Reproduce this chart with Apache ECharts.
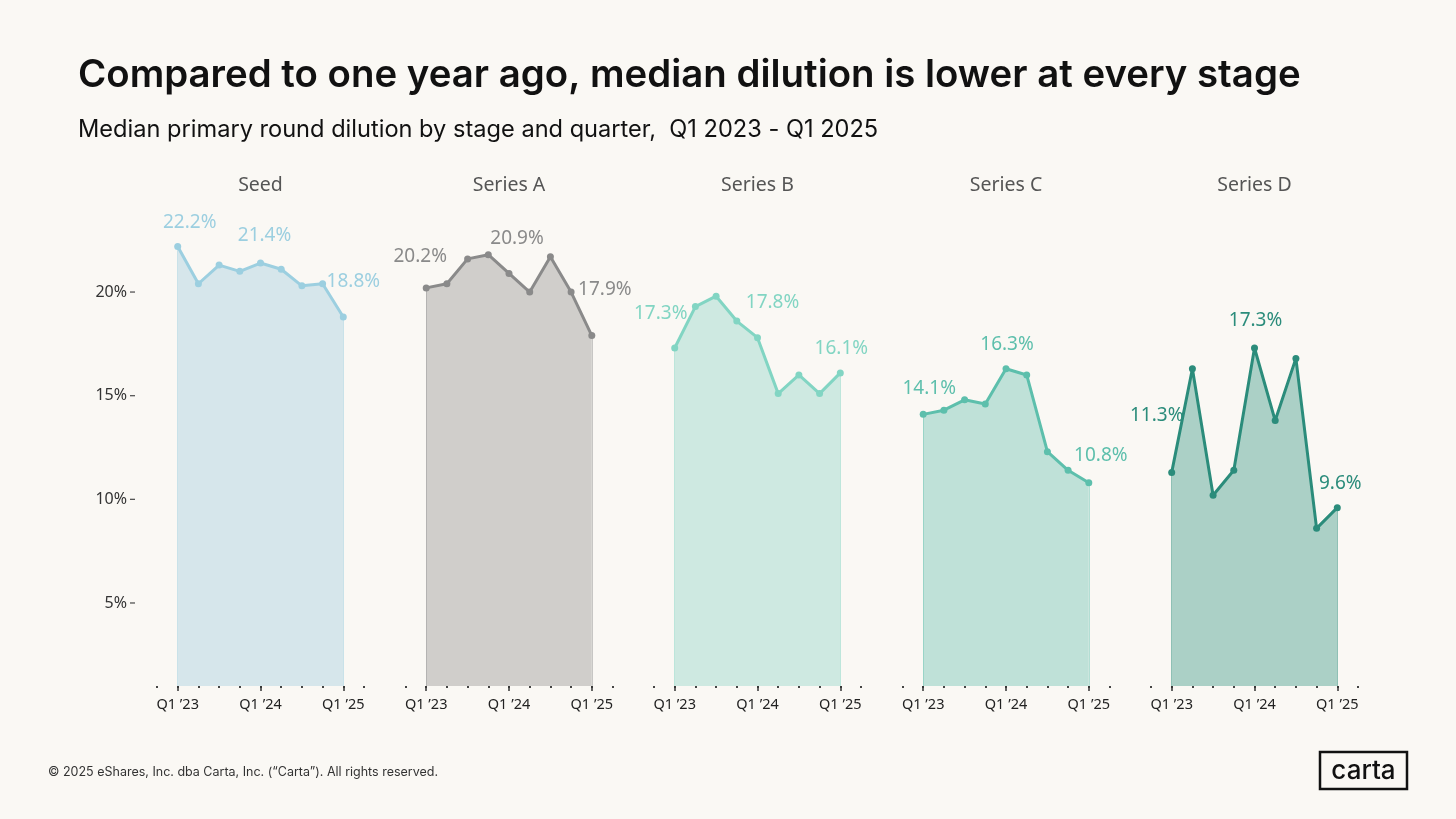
<!DOCTYPE html>
<html><head><meta charset="utf-8">
<script src="https://cdn.jsdelivr.net/npm/echarts@6/dist/echarts.min.js"></script>
<style>html,body{margin:0;background:#faf8f4;} #c{width:1456px;height:819px;}</style>
</head><body><div id="c"></div>
<script>
// ---- data ----
const stages = ['Seed', 'Series A', 'Series B', 'Series C', 'Series D'];
const quarters = ['Q1 ’23','Q2 ’23','Q3 ’23','Q4 ’23','Q1 ’24','Q2 ’24','Q3 ’24','Q4 ’24','Q1 ’25'];
const seed    = [22.2, 20.4, 21.3, 21.0, 21.4, 21.1, 20.3, 20.4, 18.8];
const seriesA = [20.2, 20.4, 21.6, 21.8, 20.9, 20.0, 21.7, 20.0, 17.9];
const seriesB = [17.3, 19.3, 19.8, 18.6, 17.8, 15.1, 16.0, 15.1, 16.1];
const seriesC = [14.1, 14.3, 14.8, 14.6, 16.3, 16.0, 12.3, 11.4, 10.8];
const seriesD = [11.3, 16.3, 10.2, 11.4, 17.3, 13.8, 16.8, 8.6, 9.6];
const yTickValues = [5, 10, 15, 20];
const labelledQuarters = [0, 4, 8];

// ---- styling / layout ----
const allSeries = [seed, seriesA, seriesB, seriesC, seriesD];
const lineColors = ['#9ccfe0', '#8a8a8a', '#82d5c3', '#5dbfac', '#2b8c7b'];
const areaColors = ['#d6e6eb', '#d0cecb', '#cee9e1', '#bfe1d8', '#abd0c6'];
const labelNudges = [
  [[12, -6], [4, -9], [10, -17]],
  [[-6, -13], [8, -17], [13, -28]],
  [[-14, -16], [15, -17], [1, -6]],
  [[6, -8], [1, -6], [12, -9]],
  [[-15, -39], [1, -9], [3, -6]]
];
const Y_MIN = 1, Y_MAX = 25;
const PANEL_LEFT = 157, PANEL_STEP = 248.5, PANEL_W = 207, GRID_TOP = 188.4, GRID_BOTTOM = 685.9;
const FONT = '"Noto Sans", "Open Sans", sans-serif';
const HEAD = 'Inter, "Noto Sans", sans-serif';

const grids = [], xAxes = [], yAxes = [], series = [], graphics = [];
allSeries.forEach((vals, i) => {
  const left = PANEL_LEFT + i * PANEL_STEP;
  grids.push({ left: left, top: GRID_TOP, width: PANEL_W, height: GRID_BOTTOM - GRID_TOP });
  xAxes.push({
    type: 'value', gridIndex: i, min: -1, max: quarters.length, interval: 1, position: 'bottom',
    axisLine: { show: false }, splitLine: { show: false },
    axisTick: { show: true, length: 2, lineStyle: { color: '#444', width: 2 } },
    axisLabel: {
      margin: 11, fontSize: 14.5, color: '#222', fontFamily: FONT,
      formatter: v => labelledQuarters.includes(v) ? quarters[v] : ''
    }
  });
  xAxes.push({
    type: 'category', gridIndex: i, boundaryGap: false, position: 'bottom',
    data: [''].concat(quarters, ['']),
    axisLine: { show: false }, axisLabel: { show: false }, splitLine: { show: false },
    axisTick: { show: true, length: 5, interval: idx => labelledQuarters.includes(idx - 1), lineStyle: { color: '#333', width: 1.5 } }
  });
  yAxes.push({
    type: 'value', gridIndex: i, min: Y_MIN, max: Y_MAX, interval: 1,
    axisLine: { show: false }, axisTick: { show: false }, splitLine: { show: false },
    axisLabel: {
      show: i === 0, margin: 22, fontFamily: FONT,
      formatter: v => yTickValues.includes(v) ? '{a|' + v + '%}{t| }' : '',
      rich: {
        a: { fontSize: 16, color: '#333', fontFamily: FONT, padding: [0, 3, 0, 0] },
        t: { width: 5, height: 1.3, backgroundColor: '#555', fontSize: 1 }
      }
    }
  });
  const last = vals.length - 1;
  series.push({
    type: 'line', xAxisIndex: 2 * i, yAxisIndex: i,
    data: vals.map((v, j) => {
      const k = labelledQuarters.indexOf(j);
      return {
        value: [j, v],
        label: { show: k >= 0, offset: k >= 0 ? labelNudges[i][k] : [0, 0] }
      };
    }),
    symbol: 'circle', symbolSize: 7, showAllSymbol: true,
    lineStyle: { width: 3, color: lineColors[i] },
    itemStyle: { color: lineColors[i] },
    areaStyle: { color: areaColors[i], opacity: 1, origin: 'start' },
    label: {
      position: 'top', distance: 5, fontSize: 19, color: lineColors[i], fontFamily: FONT,
      formatter: p => p.value[1].toFixed(1) + '%'
    },
    markLine: {
      silent: true, symbol: 'none', label: { show: false },
      lineStyle: { color: lineColors[i], width: 1, type: 'solid', opacity: 0.45 },
      emphasis: { disabled: true },
      data: [
        [{ coord: [0, Y_MIN] }, { coord: [0, vals[0]] }],
        [{ coord: [last, Y_MIN] }, { coord: [last, vals[last]] }]
      ]
    },
    z: 3
  });
  graphics.push({
    type: 'text', x: left + PANEL_W / 2, y: 185,
    style: { text: stages[i], font: '19.5px ' + FONT, fill: '#555', textAlign: 'center', textVerticalAlign: 'middle' }
  });
});

graphics.push(
  { type: 'text', x: 78, y: 75,
    style: { text: 'Compared to one year ago, median dilution is lower at every stage',
      font: '600 38.4px ' + HEAD, fill: '#111', textVerticalAlign: 'middle' } },
  { type: 'text', x: 78, y: 130,
    style: { text: 'Median primary round dilution by stage and quarter,  Q1 2023 - Q1 2025',
      font: '400 23.6px ' + HEAD, fill: '#111', textVerticalAlign: 'middle' } },
  { type: 'text', x: 48, y: 772,
    style: { text: '© 2025 eShares, Inc. dba Carta, Inc. (“Carta”). All rights reserved.',
      font: '400 12.5px ' + HEAD, fill: '#333', textVerticalAlign: 'middle' } },
  { type: 'rect', shape: { x: 1320, y: 752, width: 87, height: 37 },
    style: { fill: 'none', stroke: '#111', lineWidth: 2.5 } },
  { type: 'text', x: 1363.5, y: 771,
    style: { text: 'carta', font: '500 26px ' + HEAD, fill: '#111', textAlign: 'center', textVerticalAlign: 'middle' } }
);

const chart = echarts.init(document.getElementById('c'), null, { renderer: 'canvas' });
chart.setOption({
  backgroundColor: '#faf8f4',
  animation: false,
  grid: grids, xAxis: xAxes, yAxis: yAxes, series: series,
  graphic: graphics
});
</script>
</body></html>
